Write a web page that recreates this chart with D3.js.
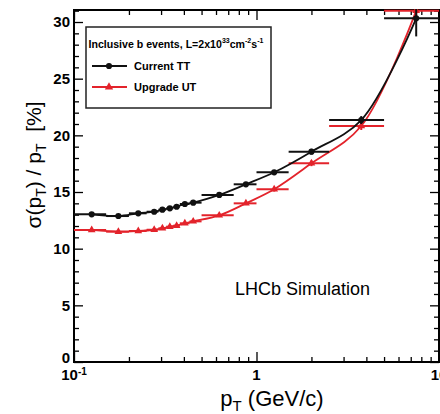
<!DOCTYPE html>
<html>
<head>
<meta charset="utf-8">
<script src="https://cdn.jsdelivr.net/npm/d3@7"></script>
<style>
  body { margin: 0; background: #fff; }
  svg { display: block; font-family: "Liberation Sans", Arial, sans-serif; }
</style>
</head>
<body>
<script>
// bins in pT (GeV/c)
var binLo  = [0.1, 0.15, 0.2, 0.25, 0.29, 0.32, 0.35, 0.38, 0.43, 0.5, 0.75, 1, 1.5, 2.5, 5];
var binHi  = [0.15, 0.2, 0.25, 0.29, 0.32, 0.35, 0.38, 0.43, 0.5, 0.75, 1, 1.5, 2.5, 5, 10];
var binMid = [0.125, 0.175, 0.225, 0.275, 0.305, 0.335, 0.365, 0.405, 0.45, 0.625, 0.875, 1.25, 2.0, 3.75, 7.5];

// sigma(pT)/pT [%]
var currentTT = [13.03, 12.88, 13.12, 13.26, 13.44, 13.56, 13.70, 13.94, 14.06, 14.74, 15.68, 16.74, 18.56, 21.35, 30.33];
var currentErr = [0.1, 0.1, 0.1, 0.1, 0.1, 0.1, 0.1, 0.1, 0.1, 0.15, 0.15, 0.2, 0.25, 0.35, 1.6];
var upgradeUT = [11.65, 11.50, 11.56, 11.67, 11.80, 11.94, 12.03, 12.24, 12.41, 12.94, 14.00, 15.24, 17.53, 20.82, 31.0];
var upgradeErr = [0.1, 0.1, 0.1, 0.1, 0.1, 0.1, 0.1, 0.1, 0.1, 0.15, 0.15, 0.2, 0.25, 0.35, 0.8];

var yTicks = [0, 5, 10, 15, 20, 25, 30];
var xTicks = [0.1, 1, 10];

var W = 440, H = 414;
var margin = {top: 10, right: 1, bottom: 52, left: 74},
    width = W - margin.left - margin.right,
    height = H - margin.top - margin.bottom;

var svg = d3.select("body").append("svg")
    .attr("width", W)
    .attr("height", H);

var g = svg.append("g")
    .attr("transform", `translate(${margin.left},${margin.top})`);

var xScale = d3.scaleLog().domain([0.1, 10]).range([0, width]);
var yScale = d3.scaleLinear().domain([0, 31.06]).range([height, 0]);

svg.append("defs").append("clipPath").attr("id", "plotclip")
    .append("rect").attr("x", 0).attr("y", -1).attr("width", width).attr("height", height + 1);

// minor ticks
var minorX = [];
[0.1, 1].forEach(function(dec) { for (var k = 2; k <= 9; k++) minorX.push(dec * k); });
var minorY = d3.range(0, 32, 1).filter(d => d % 5 !== 0);

function styleAxis(sel) {
  sel.select(".domain").remove();
  sel.selectAll("line").attr("stroke", "#000").attr("stroke-width", 1.3);
}

// y axes
var yAx = g.append("g").call(d3.axisLeft(yScale).tickValues(yTicks).tickSizeInner(-9).tickSizeOuter(0).tickPadding(4))
  .call(styleAxis);
yAx.selectAll("text").attr("font-size", 15).attr("font-weight", "bold").attr("fill", "#000")
  .attr("font-family", "Liberation Sans, Arial, sans-serif");
yAx.selectAll(".tick").filter(d => d === 0).select("text").attr("dy", "0.02em");
g.append("g").call(d3.axisLeft(yScale).tickValues(minorY).tickSize(-5).tickFormat(""))
  .call(styleAxis);
g.append("g").attr("transform", `translate(${width},0)`)
  .call(d3.axisRight(yScale).tickValues(yTicks).tickSize(-9).tickFormat(""))
  .call(styleAxis);
g.append("g").attr("transform", `translate(${width},0)`)
  .call(d3.axisRight(yScale).tickValues(minorY).tickSize(-5).tickFormat(""))
  .call(styleAxis);

// x axes
g.append("g").attr("transform", `translate(0,${height})`)
  .call(d3.axisBottom(xScale).tickValues(xTicks).tickSizeInner(-10).tickSizeOuter(0).tickFormat(""))
  .call(styleAxis);
g.append("g").attr("transform", `translate(0,${height})`)
  .call(d3.axisBottom(xScale).tickValues(minorX).tickSize(-5).tickFormat(""))
  .call(styleAxis);
g.append("g")
  .call(d3.axisTop(xScale).tickValues(xTicks).tickSize(-10).tickFormat(""))
  .call(styleAxis);
g.append("g")
  .call(d3.axisTop(xScale).tickValues(minorX).tickSize(-5).tickFormat(""))
  .call(styleAxis);

// x tick labels (10^-1, 1, 10)
xTicks.forEach(function(v) {
  var t = g.append("text")
    .attr("x", xScale(v))
    .attr("y", height + 18)
    .attr("text-anchor", "middle")
    .attr("font-size", 15).attr("font-weight", "bold");
  if (v === 0.1) {
    t.append("tspan").text("10");
    t.append("tspan").attr("dy", -5).attr("font-size", 10).text("-1");
  } else {
    t.text(v === 1 ? "1" : "10");
  }
});

// frame
g.append("rect")
  .attr("x", 0).attr("y", 0).attr("width", width).attr("height", height)
  .attr("fill", "none").attr("stroke", "#000").attr("stroke-width", 2);

// series
function drawSeries(vals, errs, color, marker) {
  var pts = binMid.map((x, i) => ({x: x, y: vals[i], lo: binLo[i], hi: binHi[i], e: errs[i]}));
  var layer = g.append("g").attr("clip-path", "url(#plotclip)");

  var line = d3.line()
    .x(d => xScale(d.x))
    .y(d => yScale(d.y))
    .curve(d3.curveCatmullRom.alpha(0.5));
  layer.append("path").datum(pts)
    .attr("d", line)
    .attr("fill", "none").attr("stroke", color).attr("stroke-width", 1.8);

  layer.selectAll(".hbar").data(pts).enter().append("line")
    .attr("x1", d => xScale(d.lo)).attr("x2", d => xScale(d.hi))
    .attr("y1", d => yScale(d.y)).attr("y2", d => yScale(d.y))
    .attr("stroke", color).attr("stroke-width", 2);
  layer.selectAll(".vbar").data(pts).enter().append("line")
    .attr("x1", d => xScale(d.x)).attr("x2", d => xScale(d.x))
    .attr("y1", d => yScale(d.y - d.e)).attr("y2", d => yScale(d.y + d.e))
    .attr("stroke", color).attr("stroke-width", 2);

  var sym = d3.symbol().type(marker).size(marker === d3.symbolCircle ? 30 : 26);
  layer.selectAll(".mk").data(pts).enter().append("path")
    .attr("d", sym)
    .attr("transform", d => `translate(${xScale(d.x)},${yScale(d.y)})`)
    .attr("fill", color);
}

drawSeries(upgradeUT, upgradeErr, "#e3232b", d3.symbolTriangle);
drawSeries(currentTT, currentErr, "#111", d3.symbolCircle);

// legend
var leg = svg.append("g");
leg.append("rect")
  .attr("x", 86).attr("y", 27).attr("width", 185).attr("height", 81)
  .attr("fill", "#fff").attr("stroke", "#222").attr("stroke-width", 1.5);
var lt = leg.append("text").attr("x", 88.5).attr("y", 48)
  .attr("font-size", 10.6).attr("font-weight", "bold");
lt.append("tspan").text("Inclusive b events, L=2x10");
lt.append("tspan").attr("dy", -5).attr("font-size", 7).text("33");
lt.append("tspan").attr("dy", 5).text("cm");
lt.append("tspan").attr("dy", -5).attr("font-size", 7).text("-2");
lt.append("tspan").attr("dy", 5).text("s");
lt.append("tspan").attr("dy", -5).attr("font-size", 7).text("-1");

var entries = [
  {label: "Current TT", color: "#111", marker: d3.symbolCircle, y: 66},
  {label: "Upgrade UT", color: "#e3232b", marker: d3.symbolTriangle, y: 87}
];
entries.forEach(function(e) {
  leg.append("line").attr("x1", 92).attr("x2", 127).attr("y1", e.y).attr("y2", e.y)
    .attr("stroke", e.color).attr("stroke-width", 2);
  leg.append("path").attr("d", d3.symbol().type(e.marker).size(30)())
    .attr("transform", `translate(109,${e.y})`).attr("fill", e.color);
  leg.append("text").attr("x", 134).attr("y", e.y + 4)
    .attr("font-size", 11).attr("font-weight", "bold").text(e.label);
});

// annotation
svg.append("text").attr("x", 235).attr("y", 295)
  .attr("font-size", 18).text("LHCb Simulation");

// axis titles
var yt = svg.append("text")
  .attr("transform", `translate(41,165) rotate(-90)`)
  .attr("text-anchor", "middle").attr("font-size", 21)
  .style("white-space", "pre");
yt.append("tspan").text("σ(p");
yt.append("tspan").attr("dy", 5).attr("font-size", 14).text("T");
yt.append("tspan").attr("dy", -5).text(") / p");
yt.append("tspan").attr("dy", 5).attr("font-size", 14).text("T");
yt.append("tspan").attr("dy", -5).text("\u00a0\u00a0[%]");

var xt = svg.append("text")
  .attr("x", 272).attr("y", 406)
  .attr("text-anchor", "middle").attr("font-size", 22);
xt.append("tspan").text("p");
xt.append("tspan").attr("dy", 5).attr("font-size", 15).text("T");
xt.append("tspan").attr("dy", -5).text(" (GeV/c)");
</script>
</body>
</html>
